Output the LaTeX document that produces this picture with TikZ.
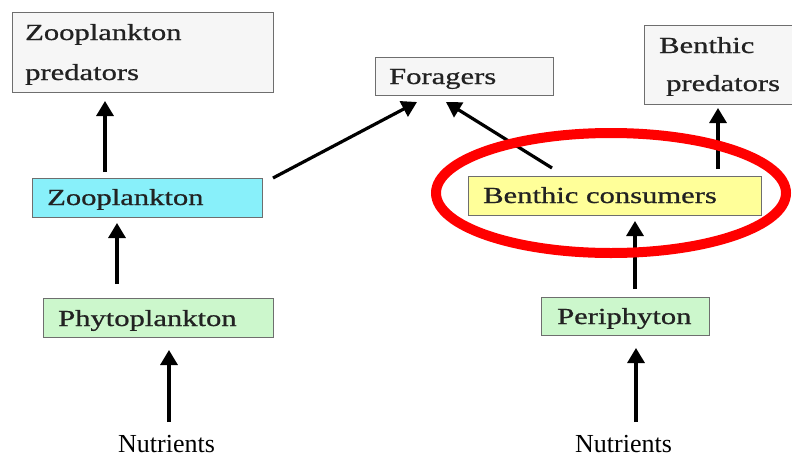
\documentclass[tikz,border=0pt]{standalone}
\usepackage{fontspec}
\setmainfont{Liberation Serif}
\newfontfamily\boxfont[FakeBold=0.7]{Liberation Serif}
\usetikzlibrary{arrows.meta}
\definecolor{boxgray}{HTML}{F6F6F6}
\definecolor{edgegray}{HTML}{6E6E6E}
\definecolor{zoocyan}{HTML}{88F0FA}
\definecolor{plantgreen}{HTML}{CCF7CC}
\definecolor{consyellow}{HTML}{FFFF99}
\definecolor{txtdark}{HTML}{222222}
\tikzset{
  box/.style={draw=edgegray, line width=1.3pt, rectangle, inner sep=0pt, anchor=north west},
  boxtxt/.style={anchor=base west, inner sep=0pt, text=txtdark, font=\boxfont\fontsize{23}{27}\selectfont},
  nuttxt/.style={anchor=base west, inner sep=0pt, font=\fontsize{26}{30}\selectfont},
  arr/.style={line width=3.2pt, -{Triangle[length=15pt,width=17pt]}},
  ring/.style={draw=red, line width=10pt}
}
\newcommand{\wide}[1]{\scalebox{1.33}[1]{#1}}
\begin{document}
\begin{tikzpicture}[x=1pt,y=-1pt]
\clip (0,0) rectangle (792,458);
\fill[white] (0,0) rectangle (792,458);

% boxes
\node[box, fill=boxgray, minimum width=261pt, minimum height=80pt] (zpred) at (12,12) {};
\node[boxtxt] (zpredA) at (25,40) {\wide{Zooplankton}};
\node[boxtxt] (zpredB) at (25,80) {\wide{predators}};

\node[box, fill=boxgray, minimum width=178pt, minimum height=38pt] (forag) at (375,57) {};
\node[boxtxt] (foragT) at (389,84) {\wide{Foragers}};

\node[box, fill=boxgray, minimum width=152pt, minimum height=79pt] (bpred) at (644,25) {};
\node[boxtxt] (bpredA) at (659,53) {\wide{Benthic}};
\node[boxtxt] (bpredB) at (666,91) {\wide{predators}};

\node[box, fill=zoocyan, minimum width=230pt, minimum height=39pt] (zoo) at (32,178) {};
\node[boxtxt] (zooT) at (47,205) {\wide{Zooplankton}};

\node[box, fill=plantgreen, minimum width=230pt, minimum height=39pt] (phyto) at (43,298) {};
\node[boxtxt] (phytoT) at (58,326) {\wide{Phytoplankton}};

\node[box, fill=consyellow, minimum width=293pt, minimum height=39pt] (bcons) at (468,176) {};
\node[boxtxt] (bconsT) at (483,203) {\wide{Benthic consumers}};

\node[box, fill=plantgreen, minimum width=168pt, minimum height=38pt] (peri) at (541,297) {};
\node[boxtxt] (periT) at (557,324) {\wide{Periphyton}};

\node[nuttxt] (nutL) at (118,452) {Nutrients};
\node[nuttxt] (nutR) at (575,452) {Nutrients};

% arrow end points
\coordinate (a1s) at (105,172); \coordinate (a1e) at (105,101);
\coordinate (a2s) at (117,284); \coordinate (a2e) at (117,223);
\coordinate (a3s) at (169,422); \coordinate (a3e) at (169,350);
\coordinate (a4s) at (636,422); \coordinate (a4e) at (636,348);
\coordinate (a5s) at (635,289); \coordinate (a5e) at (635,221);
\coordinate (a6s) at (718,169); \coordinate (a6e) at (718,108);
\coordinate (a7s) at (273,178); \coordinate (a7e) at (417,102);
\coordinate (a8s) at (552,168); \coordinate (a8e) at (446,102);

\draw[arr] (a1s) -- (a1e);
\draw[arr] (a2s) -- (a2e);
\draw[arr] (a3s) -- (a3e);
\draw[arr] (a4s) -- (a4e);
\draw[arr] (a5s) -- (a5e);
\draw[arr] (a6s) -- (a6e);
\draw[arr] (a7s) -- (a7e);
\draw[arr] (a8s) -- (a8e);

% highlight ring
\draw[ring] (611,193) ellipse [x radius=175, y radius=60];
\end{tikzpicture}
\end{document}
